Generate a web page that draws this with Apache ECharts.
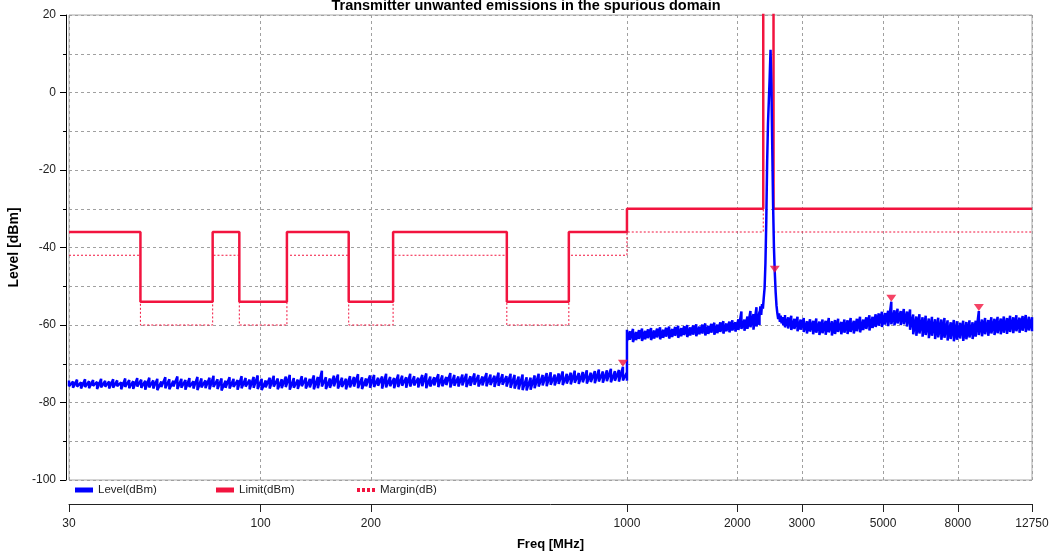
<!DOCTYPE html>
<html>
<head>
<meta charset="utf-8">
<title>Transmitter unwanted emissions in the spurious domain</title>
<script src="https://cdn.jsdelivr.net/npm/echarts@6/dist/echarts.min.js"></script>
<style>
  html, body { margin: 0; padding: 0; background: #ffffff; }
  #chart { width: 1052px; height: 555px; }
</style>
</head>
<body>
<div id="chart"></div>
<script>
// ---- Axis ticks ----
const freqTicks = [30, 100, 200, 1000, 2000, 3000, 5000, 8000, 12750];

// ---- Sweep bands [start MHz, stop MHz]; points are spread evenly on the log scale ----
const bandA = [30, 1000];
const bandB = [1000, 2300];
const bandC = [2300, 2700];
const bandD = [2700, 12750];

// Band A: upper / lower envelope of the noise floor (dBm)
const levelAHi = [
  -74.3,-74.6,-74.1,-74.8,-74.0,-74.5,-74.2,-74.7,-73.9,-74.4,-74.6,-74.0,-74.3,-74.8,-73.8,-74.2,-74.5,-73.7,-74.1,-74.4,
  -73.6,-74.3,-73.9,-74.6,-73.5,-74.0,-74.4,-73.3,-73.9,-74.2,-73.7,-74.5,-73.4,-73.8,-74.3,-73.6,-73.1,-74.0,-73.8,-74.4,
  -73.5,-73.9,-74.2,-73.2,-73.7,-74.1,-73.4,-73.0,-73.9,-74.3,-73.6,-73.1,-73.8,-74.0,-73.3,-72.9,-73.7,-74.1,-73.2,-73.6,
  -73.9,-73.0,-73.4,-71.8,-73.5,-73.8,-73.1,-72.8,-73.6,-73.9,-73.2,-73.4,-72.7,-73.5,-73.8,-73.0,-72.9,-73.6,-73.3,-72.6,
  -73.4,-73.7,-72.8,-73.1,-73.5,-72.6,-73.2,-73.6,-72.9,-72.5,-73.3,-73.5,-72.7,-73.0,-73.4,-72.4,-72.9,-73.3,-72.8,-72.6,
  -73.2,-72.5,-72.9,-73.3,-72.4,-72.8,-73.1,-72.3,-72.7,-73.2,-72.6,-72.9,-73.3,-72.8,-73.5,-73.6,-73.0,-72.6,-72.9,-72.4,
  -72.2,-72.8,-72.5,-72.0,-72.6,-72.3,-71.8,-72.4,-72.1,-71.7,-72.3,-71.9,-71.5,-72.0,-71.7,-71.3,-71.9,-71.6,-70.8,-72.2
];
const levelALo = [
  -75.8,-76.2,-75.9,-76.4,-76.0,-76.3,-75.7,-76.5,-76.1,-75.9,-76.4,-76.2,-75.8,-76.6,-76.0,-76.3,-76.5,-75.9,-76.2,-76.7,
  -76.1,-76.4,-76.8,-76.0,-76.3,-76.6,-75.9,-76.5,-76.2,-76.7,-76.0,-76.4,-76.8,-76.1,-76.3,-76.6,-76.0,-76.5,-76.9,-76.2,
  -76.4,-76.0,-76.7,-76.3,-75.9,-76.6,-76.2,-76.5,-76.8,-76.1,-76.4,-75.9,-76.6,-76.3,-76.0,-76.7,-76.2,-76.5,-75.8,-76.4,
  -76.1,-76.6,-76.3,-75.9,-76.5,-76.2,-75.8,-76.4,-76.0,-76.6,-76.1,-75.9,-76.3,-76.5,-75.8,-76.2,-76.0,-75.7,-76.4,-76.1,
  -75.8,-76.3,-76.0,-75.7,-76.2,-75.9,-75.6,-76.1,-75.8,-76.3,-75.9,-75.6,-76.0,-75.8,-75.5,-76.1,-75.7,-75.9,-75.6,-76.0,
  -75.7,-75.4,-75.9,-75.6,-75.8,-75.5,-76.0,-75.7,-75.4,-75.9,-76.2,-76.4,-76.6,-76.8,-76.9,-76.7,-76.3,-75.9,-75.6,-75.8,
  -75.4,-75.6,-75.2,-75.5,-75.1,-75.3,-74.9,-75.2,-74.8,-75.1,-74.7,-75.0,-74.6,-74.9,-74.5,-74.8,-74.4,-74.6,-74.3,-74.4
];

// Band B: upper / lower envelope
const levelBHi = [
  -61.2,-61.6,-61.0,-61.8,-61.3,-60.9,-61.5,-61.1,-60.8,-61.4,
  -60.9,-60.6,-61.2,-60.7,-60.4,-61.0,-60.5,-60.2,-60.8,-60.3,
  -60.0,-60.6,-60.1,-59.8,-60.4,-59.9,-59.6,-60.2,-59.7,-59.4,
  -59.9,-59.3,-59.0,-59.6,-59.1,-58.8,-59.3,-58.5,-56.5,-58.6,
  -57.8,-56.4,-57.2,-55.4,-56.6
];
const levelBLo = [
  -64.2,-63.8,-64.4,-63.9,-63.6,-64.1,-63.7,-63.4,-63.9,-63.5,
  -63.2,-63.7,-63.3,-63.0,-63.5,-63.1,-62.8,-63.3,-62.9,-62.6,
  -63.1,-62.7,-62.5,-62.9,-62.4,-62.2,-62.7,-62.3,-62.0,-62.5,
  -62.1,-61.8,-62.2,-61.6,-61.9,-61.4,-61.7,-61.3,-61.0,-61.5,
  -61.0,-60.6,-61.2,-60.4,-60.0
];

// Band C: carrier region, single trace
const levelC = [
  -57.8,-55.2,-57.4,-54.6,-55.8,-53.0,-50.5,-44.0,-33.0,-18.0,
  -8.0,-2.0,4.0,11.0,2.0,-14.0,-29.0,-40.0,-46.5,-51.5,
  -55.0,-57.0,-58.5,-57.0,-59.2,-57.6,-59.6,-58.0,-60.1,-58.4,-59.0
];

// Band D: upper / lower envelope
const levelDHi = [
  -57.4,-58.0,-57.6,-58.4,-57.9,-58.6,-58.2,-59.0,-58.5,-58.9,
  -58.3,-59.1,-58.6,-58.9,-58.2,-59.0,-58.7,-58.4,-59.2,-58.6,
  -58.8,-58.2,-58.9,-58.4,-57.9,-58.6,-58.0,-57.5,-57.9,-57.2,
  -57.0,-56.6,-56.9,-56.3,-54.0,-56.2,-55.8,-56.4,-55.9,-56.5,
  -56.0,-57.3,-57.8,-57.2,-58.0,-57.6,-58.3,-57.9,-58.5,-58.1,
  -58.6,-58.2,-58.8,-59.3,-58.7,-59.0,-59.4,-58.9,-59.2,-58.8,
  -59.3,-58.9,-56.4,-58.6,-58.2,-58.7,-58.0,-58.4,-57.9,-58.3,
  -57.8,-58.2,-57.6,-58.0,-57.5,-58.1,-57.7,-57.4,-57.9,-58.0
];
const levelDLo = [
  -60.6,-60.9,-61.3,-61.0,-61.6,-61.2,-61.8,-62.2,-61.7,-62.4,
  -62.0,-62.6,-62.1,-62.5,-61.9,-62.7,-62.3,-61.8,-62.4,-62.0,
  -62.3,-61.8,-62.2,-61.6,-61.9,-61.3,-61.0,-61.4,-60.8,-60.5,
  -60.2,-60.5,-59.9,-60.3,-59.8,-60.1,-59.6,-60.0,-59.8,-60.4,
  -61.2,-62.4,-62.8,-62.2,-63.0,-62.6,-63.4,-62.8,-63.6,-63.2,
  -63.8,-63.3,-64.0,-63.6,-64.2,-63.8,-63.5,-64.1,-63.7,-63.2,
  -63.6,-63.0,-62.6,-62.9,-62.4,-62.8,-62.2,-62.6,-62.1,-62.4,
  -62.0,-62.3,-61.8,-62.1,-61.6,-62.0,-61.5,-61.8,-61.4,-61.6
];

// ---- Limit line and margin (corner points of the step mask) ----
const limitFreq  = [30, 47, 47, 74, 74, 87.5, 87.5, 118, 118, 174, 174, 230, 230, 470, 470, 694, 694, 1000, 1000, 2355, 2355, 2512, 2512, 12750];
const limitLevel = [-36, -36, -54, -54, -36, -36, -54, -54, -36, -36, -54, -54, -36, -36, -54, -54, -36, -36, -30, -30, 40, 40, -30, -30];
const marginLevel = [-42, -42, -60, -60, -42, -42, -60, -60, -42, -42, -60, -60, -42, -42, -60, -60, -42, -42, -36, -36, 34, 34, -36, -36];

// ---- Peak markers ----
const peakFreq  = [975, 2532, 5266, 9130];
const peakLevel = [-70.8, -46.5, -54.0, -56.4];

// ---- Styling ----
const BLUE = '#0000ff';
const RED = '#f2143f';
const GRID_GRAY = '#a0a0a0';
const SANS = "'Liberation Sans', Arial, sans-serif";

// Single trace: one point per value
function sweep(band, levels) {
  const f0 = band[0], f1 = band[1], n = levels.length;
  return levels.map((v, i) => [f0 * Math.pow(f1 / f0, i / (n - 1)), v]);
}
// Max/min detector trace: each frequency bin draws its upper then lower value
function envelope(band, hi, lo) {
  const f0 = band[0], f1 = band[1], n = hi.length, out = [];
  for (let i = 0; i < n; i++) {
    const f = f0 * Math.pow(f1 / f0, i / (n - 1));
    out.push([f, hi[i]], [f, lo[i]]);
  }
  return out;
}

const levelData = [].concat(
  envelope(bandA, levelAHi, levelALo),
  envelope(bandB, levelBHi, levelBLo),
  sweep(bandC, levelC),
  envelope(bandD, levelDHi, levelDLo)
);
const limitData = limitFreq.map((f, i) => [f, limitLevel[i]]);
const marginData = limitFreq.map((f, i) => [f, marginLevel[i]]);
const peakData = peakFreq.map((f, i) => [f, peakLevel[i]]);

const legendCommon = {
  top: 484,
  padding: 0,
  itemGap: 0,
  itemWidth: 18,
  itemHeight: 5,
  selectedMode: false,
  itemStyle: { borderWidth: 0 },
  textStyle: { fontFamily: SANS, fontSize: 11.5, color: '#222' }
};

const chart = echarts.init(document.getElementById('chart'), null, { renderer: 'canvas' });

chart.setOption({
  animation: false,
  backgroundColor: '#ffffff',
  title: {
    text: 'Transmitter unwanted emissions in the spurious domain',
    left: 'center',
    top: -7,
    textStyle: { fontFamily: SANS, fontWeight: 'bold', fontSize: 14.5, color: '#000' }
  },
  grid: {
    left: 69, right: 20, top: 15, bottom: 75,
    show: true, borderColor: '#a8a8a8', borderWidth: 1,
    containLabel: false, outerBoundsMode: 'none'
  },
  legend: [
    Object.assign({ left: 75, data: [{ name: 'Level(dBm)', icon: 'rect' }] }, legendCommon),
    Object.assign({ left: 216, data: [{ name: 'Limit(dBm)', icon: 'rect' }] }, legendCommon),
    Object.assign({ left: 357, data: [{ name: 'Margin(dB)', icon: 'path://M0,0h3v4h-3zM5,0h3v4h-3zM10,0h3v4h-3zM15,0h3v4h-3z' }] }, legendCommon)
  ],
  xAxis: {
    type: 'log',
    logBase: 10,
    min: 30,
    max: 12750,
    offset: 24,
    name: 'Freq [MHz]',
    nameLocation: 'middle',
    nameGap: 34,
    nameTextStyle: { fontFamily: SANS, fontWeight: 'bold', fontSize: 13, color: '#000' },
    axisLine: { show: true, onZero: false, lineStyle: { color: '#222', width: 1 } },
    axisTick: { show: true, length: 8, customValues: freqTicks, lineStyle: { color: '#222' } },
    axisLabel: {
      customValues: freqTicks, margin: 14,
      fontFamily: SANS, fontSize: 12, color: '#222',
      formatter: v => String(Math.round(v))
    },
    splitLine: { show: true, lineStyle: { color: GRID_GRAY, width: 1, type: [3, 3] } },
    minorTick: { show: false },
    minorSplitLine: { show: false }
  },
  yAxis: {
    type: 'value',
    min: -100,
    max: 20,
    interval: 20,
    offset: 3,
    name: 'Level [dBm]',
    nameLocation: 'middle',
    nameGap: 38,
    nameTextStyle: { fontFamily: SANS, fontWeight: 'bold', fontSize: 14, color: '#000' },
    axisLine: { show: true, onZero: false, lineStyle: { color: '#000', width: 1 } },
    axisTick: { show: true, length: 6, lineStyle: { color: '#000' } },
    minorTick: { show: true, splitNumber: 2, length: 3, lineStyle: { color: '#000' } },
    axisLabel: { margin: 10, fontFamily: SANS, fontSize: 12, color: '#222' },
    splitLine: { show: true, lineStyle: { color: GRID_GRAY, width: 1, type: [3, 3] } },
    minorSplitLine: { show: true, lineStyle: { color: GRID_GRAY, width: 1, type: [3, 3] } }
  },
  series: [
    {
      name: 'Margin(dB)',
      type: 'line',
      data: marginData,
      symbol: 'none',
      color: RED,
      lineStyle: { color: RED, width: 1, type: [2, 2] },
      z: 2
    },
    {
      name: 'Limit(dBm)',
      type: 'line',
      data: limitData,
      symbol: 'none',
      color: RED,
      lineStyle: { color: RED, width: 2.5 },
      z: 3
    },
    {
      name: 'Level(dBm)',
      type: 'line',
      data: levelData,
      symbol: 'none',
      sampling: null,
      color: BLUE,
      lineStyle: { color: BLUE, width: 2.5 },
      z: 4
    },
    {
      name: 'Peaks',
      type: 'scatter',
      data: peakData,
      symbol: 'path://M0,0L10,0L5,7Z',
      symbolSize: [10, 7],
      symbolOffset: [0, -3.5],
      itemStyle: { color: RED },
      z: 5
    }
  ]
});
</script>
</body>
</html>
